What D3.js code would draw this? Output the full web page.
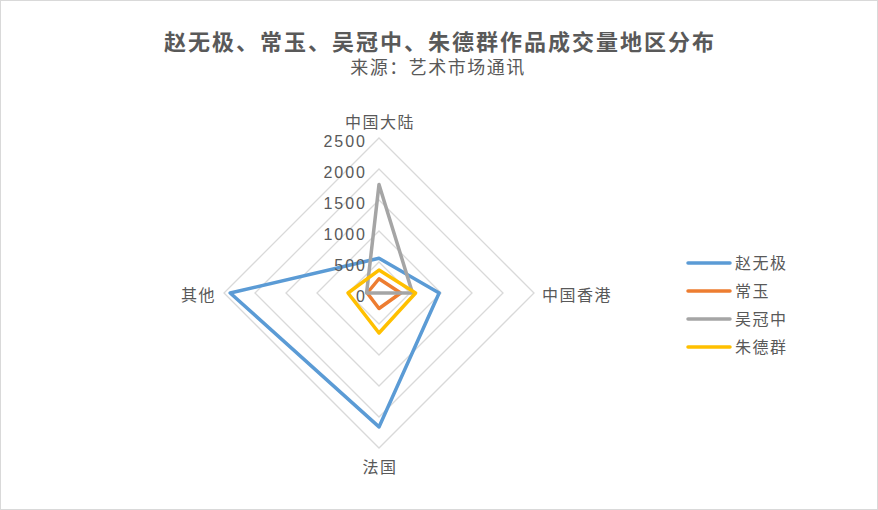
<!DOCTYPE html>
<html>
<head>
<meta charset="utf-8">
<script src="https://cdn.jsdelivr.net/npm/d3@7"></script>
<style>
  html, body { margin: 0; padding: 0; background: #fff; }
  text { font-family: "Liberation Sans", "Noto Sans CJK SC", sans-serif; fill: #595959; }
</style>
</head>
<body>
<svg id="chart" width="878" height="510"></svg>
<script>
"use strict";

// Chart data
const axes = ['中国大陆', '中国香港', '法国', '其他'];
const seriesNames = ['赵无极', '常玉', '吴冠中', '朱德群'];
const zhaoValues = [560, 970, 2160, 2400];
const changValues = [230, 350, 250, 190];
const wuValues = [1750, 540, 0, 200];
const zhuValues = [370, 590, 645, 500];
const tickValues = [0, 500, 1000, 1500, 2000, 2500];
const colors = ['#5B9BD5', '#ED7D31', '#A5A5A5', '#FFC000'];

const allSeries = [zhaoValues, changValues, wuValues, zhuValues];

const svg = d3.select('#chart');

// Outer border
svg.append('rect')
    .attr('x', 0.5).attr('y', 0.5)
    .attr('width', 877).attr('height', 509)
    .attr('fill', '#fff')
    .attr('stroke', '#d9d9d9');

// Title
svg.append('text')
    .attr('x', 440).attr('y', 50)
    .attr('text-anchor', 'middle')
    .style('font-size', '22px')
    .style('letter-spacing', '2px')
    .style('font-weight', 'bold')
    .text('赵无极、常玉、吴冠中、朱德群作品成交量地区分布');

svg.append('text')
    .attr('x', 438).attr('y', 74)
    .attr('text-anchor', 'middle')
    .style('font-size', '18px')
    .style('letter-spacing', '1.5px')
    .text('来源：艺术市场通讯');

// Radar geometry
const cx = 379, cy = 293;
const r = d3.scaleLinear().domain([0, 2500]).range([0, 155]);
const angle = i => (i * 2 * Math.PI) / axes.length;
const point = (v, i) => [cx + r(v) * Math.sin(angle(i)), cy - r(v) * Math.cos(angle(i))];

const g = svg.append('g');

// Grid rings
g.selectAll('polygon.ring')
    .data(tickValues.filter(t => t > 0))
    .enter().append('polygon')
    .attr('class', 'ring')
    .attr('points', t => axes.map((a, i) => point(t, i).join(',')).join(' '))
    .attr('fill', 'none')
    .attr('stroke', '#d9d9d9')
    .attr('stroke-width', 1.3);

// Series
const line = d3.line().curve(d3.curveLinearClosed);
g.selectAll('path.series')
    .data(allSeries)
    .enter().append('path')
    .attr('class', 'series')
    .attr('d', vals => line(vals.map((v, i) => point(v, i))))
    .attr('fill', 'none')
    .attr('stroke', (d, i) => colors[i])
    .attr('stroke-width', 3.5)
    .attr('stroke-linejoin', 'round');

// Tick labels
g.selectAll('text.tick')
    .data(tickValues)
    .enter().append('text')
    .attr('class', 'tick')
    .attr('x', cx - 12)
    .attr('y', t => cy - r(t) + 3)
    .attr('dy', '0.35em')
    .attr('text-anchor', 'end')
    .style('font-size', '16px')
    .style('letter-spacing', '2px')
    .text(t => t);

// Axis labels
const labelPos = [
    { x: cx + 1, y: cy - r(2500) - 16, anchor: 'middle' },
    { x: cx + r(2500) + 8, y: cy + 2, anchor: 'start' },
    { x: cx + 1, y: cy + r(2500) + 19, anchor: 'middle' },
    { x: cx - r(2500) - 8, y: cy + 2, anchor: 'end' }
];
g.selectAll('text.axis')
    .data(axes)
    .enter().append('text')
    .attr('class', 'axis')
    .attr('x', (d, i) => labelPos[i].x)
    .attr('y', (d, i) => labelPos[i].y)
    .attr('dy', '0.35em')
    .attr('text-anchor', (d, i) => labelPos[i].anchor)
    .style('font-size', '16px')
    .style('letter-spacing', '1.5px')
    .text(d => d);

// Legend
const legend = svg.append('g')
    .selectAll('g')
    .data(seriesNames)
    .enter().append('g')
    .attr('transform', (d, i) => 'translate(688,' + (263 + i * 28) + ')');

legend.append('line')
    .attr('x1', 0).attr('x2', 42)
    .attr('stroke', (d, i) => colors[i])
    .attr('stroke-width', 3.5)
    .attr('stroke-linecap', 'round');

legend.append('text')
    .attr('x', 47)
    .attr('dy', '0.35em')
    .style('font-size', '16px')
    .style('letter-spacing', '1.5px')
    .text(d => d);
</script>
</body>
</html>
